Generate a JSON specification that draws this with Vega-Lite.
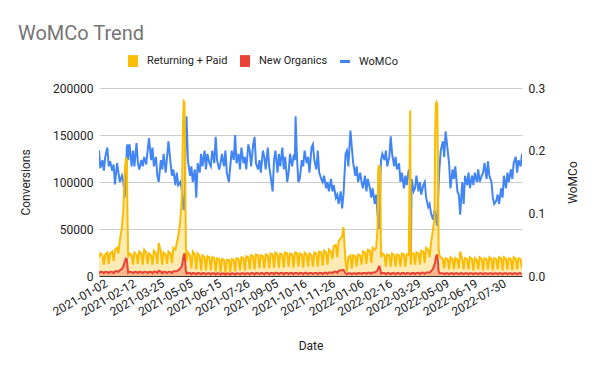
{
"$schema": "https://vega.github.io/schema/vega-lite/v6.json",
"width": 423, "height": 188,
"autosize": {"type": "none"},
"padding": {"left": 99, "top": 88, "right": 78, "bottom": 95},
"background": "white",
"title": {"text": "WoMCo Trend", "anchor": "start", "frame": "group", "fontSize": 20, "fontWeight": "normal", "color": "#757575", "dx": -81, "offset": 11},
"data": {"values": [
{"d":"2021-01-02","r":20000,"n":3000,"w":0.200},
{"d":"2021-01-04","r":24000,"n":4500,"w":0.172},
{"d":"2021-01-07","r":22000,"n":4200,"w":0.185},
{"d":"2021-01-09","r":12000,"n":3000,"w":0.168},
{"d":"2021-01-11","r":23000,"n":4500,"w":0.190},
{"d":"2021-01-14","r":25000,"n":4300,"w":0.205},
{"d":"2021-01-16","r":13000,"n":3000,"w":0.175},
{"d":"2021-01-18","r":24000,"n":4500,"w":0.183},
{"d":"2021-01-21","r":26000,"n":4400,"w":0.168},
{"d":"2021-01-23","r":16000,"n":3200,"w":0.178},
{"d":"2021-01-25","r":28000,"n":5000,"w":0.146},
{"d":"2021-01-28","r":30000,"n":5000,"w":0.180},
{"d":"2021-01-30","r":24000,"n":4500,"w":0.165},
{"d":"2021-02-01","r":38000,"n":6000,"w":0.150},
{"d":"2021-02-04","r":52000,"n":7500,"w":0.160},
{"d":"2021-02-06","r":70000,"n":10000,"w":0.150},
{"d":"2021-02-08","r":112000,"n":15000,"w":0.125},
{"d":"2021-02-10","r":126000,"n":18500,"w":0.160},
{"d":"2021-02-11","r":124000,"n":18000,"w":0.205},
{"d":"2021-02-12","r":65000,"n":10000,"w":0.210},
{"d":"2021-02-13","r":20000,"n":3500,"w":0.185},
{"d":"2021-02-15","r":24000,"n":4500,"w":0.210},
{"d":"2021-02-18","r":22000,"n":4200,"w":0.175},
{"d":"2021-02-20","r":12000,"n":3000,"w":0.200},
{"d":"2021-02-22","r":25000,"n":4500,"w":0.175},
{"d":"2021-02-25","r":23000,"n":4300,"w":0.212},
{"d":"2021-02-27","r":13000,"n":3000,"w":0.180},
{"d":"2021-03-01","r":26000,"n":4500,"w":0.170},
{"d":"2021-03-04","r":24000,"n":4300,"w":0.185},
{"d":"2021-03-06","r":12000,"n":3000,"w":0.175},
{"d":"2021-03-08","r":28000,"n":4600,"w":0.190},
{"d":"2021-03-11","r":25000,"n":4400,"w":0.178},
{"d":"2021-03-13","r":13000,"n":3000,"w":0.200},
{"d":"2021-03-15","r":24000,"n":4500,"w":0.220},
{"d":"2021-03-18","r":22000,"n":4300,"w":0.185},
{"d":"2021-03-20","r":12000,"n":3000,"w":0.205},
{"d":"2021-03-22","r":27000,"n":4700,"w":0.175},
{"d":"2021-03-25","r":24000,"n":4500,"w":0.190},
{"d":"2021-03-27","r":13000,"n":3200,"w":0.160},
{"d":"2021-03-29","r":35000,"n":5500,"w":0.150},
{"d":"2021-04-01","r":26000,"n":4600,"w":0.185},
{"d":"2021-04-03","r":12000,"n":3000,"w":0.170},
{"d":"2021-04-05","r":25000,"n":4500,"w":0.195},
{"d":"2021-04-08","r":23000,"n":4300,"w":0.165},
{"d":"2021-04-10","r":13000,"n":3000,"w":0.190},
{"d":"2021-04-12","r":26000,"n":4600,"w":0.215},
{"d":"2021-04-15","r":24000,"n":4400,"w":0.180},
{"d":"2021-04-17","r":14000,"n":3200,"w":0.160},
{"d":"2021-04-19","r":30000,"n":5000,"w":0.170},
{"d":"2021-04-22","r":28000,"n":5000,"w":0.145},
{"d":"2021-04-24","r":35000,"n":5000,"w":0.165},
{"d":"2021-04-26","r":42000,"n":6000,"w":0.145},
{"d":"2021-04-29","r":58000,"n":8000,"w":0.150},
{"d":"2021-05-01","r":80000,"n":10000,"w":0.140},
{"d":"2021-05-02","r":110000,"n":13000,"w":0.125},
{"d":"2021-05-03","r":165000,"n":18000,"w":0.115},
{"d":"2021-05-04","r":186000,"n":22000,"w":0.105},
{"d":"2021-05-05","r":185000,"n":24000,"w":0.110},
{"d":"2021-05-06","r":130000,"n":16000,"w":0.180},
{"d":"2021-05-07","r":35000,"n":6000,"w":0.230},
{"d":"2021-05-08","r":16000,"n":2500,"w":0.255},
{"d":"2021-05-10","r":25000,"n":3500,"w":0.185},
{"d":"2021-05-13","r":22000,"n":3300,"w":0.160},
{"d":"2021-05-15","r":8000,"n":1800,"w":0.175},
{"d":"2021-05-17","r":26000,"n":3200,"w":0.150},
{"d":"2021-05-20","r":23000,"n":3000,"w":0.170},
{"d":"2021-05-22","r":7000,"n":1800,"w":0.125},
{"d":"2021-05-24","r":24000,"n":3200,"w":0.180},
{"d":"2021-05-27","r":21000,"n":3000,"w":0.165},
{"d":"2021-05-29","r":6000,"n":1700,"w":0.195},
{"d":"2021-05-31","r":22000,"n":3100,"w":0.175},
{"d":"2021-06-03","r":20000,"n":3000,"w":0.200},
{"d":"2021-06-05","r":6000,"n":1700,"w":0.170},
{"d":"2021-06-07","r":21000,"n":3000,"w":0.195},
{"d":"2021-06-10","r":20000,"n":2900,"w":0.180},
{"d":"2021-06-12","r":6000,"n":1600,"w":0.175},
{"d":"2021-06-14","r":20000,"n":3000,"w":0.200},
{"d":"2021-06-17","r":19000,"n":2900,"w":0.180},
{"d":"2021-06-19","r":5000,"n":1500,"w":0.222},
{"d":"2021-06-21","r":19000,"n":2900,"w":0.185},
{"d":"2021-06-24","r":18000,"n":2800,"w":0.170},
{"d":"2021-06-26","r":4000,"n":1500,"w":0.180},
{"d":"2021-06-28","r":18000,"n":2800,"w":0.195},
{"d":"2021-07-01","r":17000,"n":2700,"w":0.175},
{"d":"2021-07-03","r":3000,"n":1400,"w":0.200},
{"d":"2021-07-05","r":17000,"n":2700,"w":0.165},
{"d":"2021-07-08","r":17000,"n":2700,"w":0.150},
{"d":"2021-07-10","r":4000,"n":1500,"w":0.175},
{"d":"2021-07-12","r":18000,"n":2800,"w":0.200},
{"d":"2021-07-15","r":17000,"n":2700,"w":0.185},
{"d":"2021-07-17","r":5000,"n":1500,"w":0.225},
{"d":"2021-07-19","r":19000,"n":2900,"w":0.180},
{"d":"2021-07-22","r":18000,"n":2800,"w":0.195},
{"d":"2021-07-24","r":6000,"n":1600,"w":0.170},
{"d":"2021-07-26","r":20000,"n":3000,"w":0.205},
{"d":"2021-07-29","r":19000,"n":2900,"w":0.180},
{"d":"2021-07-31","r":6000,"n":1600,"w":0.190},
{"d":"2021-08-02","r":21000,"n":3000,"w":0.170},
{"d":"2021-08-05","r":20000,"n":2900,"w":0.210},
{"d":"2021-08-07","r":7000,"n":1700,"w":0.200},
{"d":"2021-08-09","r":22000,"n":3100,"w":0.175},
{"d":"2021-08-12","r":21000,"n":3000,"w":0.210},
{"d":"2021-08-14","r":7000,"n":1700,"w":0.222},
{"d":"2021-08-16","r":23000,"n":3100,"w":0.180},
{"d":"2021-08-19","r":22000,"n":3000,"w":0.170},
{"d":"2021-08-21","r":8000,"n":1800,"w":0.185},
{"d":"2021-08-23","r":22000,"n":3100,"w":0.165},
{"d":"2021-08-26","r":21000,"n":3000,"w":0.200},
{"d":"2021-08-28","r":8000,"n":1800,"w":0.190},
{"d":"2021-08-30","r":23000,"n":3200,"w":0.170},
{"d":"2021-09-02","r":22000,"n":3100,"w":0.205},
{"d":"2021-09-04","r":8000,"n":1800,"w":0.175},
{"d":"2021-09-06","r":24000,"n":3200,"w":0.160},
{"d":"2021-09-09","r":23000,"n":3100,"w":0.135},
{"d":"2021-09-11","r":9000,"n":1800,"w":0.185},
{"d":"2021-09-13","r":25000,"n":3300,"w":0.200},
{"d":"2021-09-16","r":23000,"n":3100,"w":0.165},
{"d":"2021-09-18","r":9000,"n":1800,"w":0.195},
{"d":"2021-09-20","r":24000,"n":3200,"w":0.175},
{"d":"2021-09-23","r":23000,"n":3100,"w":0.205},
{"d":"2021-09-25","r":9000,"n":1800,"w":0.170},
{"d":"2021-09-27","r":25000,"n":3300,"w":0.190},
{"d":"2021-09-30","r":24000,"n":3200,"w":0.150},
{"d":"2021-10-02","r":10000,"n":1900,"w":0.165},
{"d":"2021-10-04","r":24000,"n":3200,"w":0.195},
{"d":"2021-10-07","r":23000,"n":3100,"w":0.175},
{"d":"2021-10-09","r":9000,"n":1800,"w":0.190},
{"d":"2021-10-11","r":25000,"n":3300,"w":0.185},
{"d":"2021-10-12","r":25000,"n":3300,"w":0.255},
{"d":"2021-10-14","r":24000,"n":3200,"w":0.190},
{"d":"2021-10-16","r":10000,"n":1900,"w":0.150},
{"d":"2021-10-18","r":24000,"n":3200,"w":0.155},
{"d":"2021-10-21","r":23000,"n":3100,"w":0.185},
{"d":"2021-10-23","r":9000,"n":1800,"w":0.175},
{"d":"2021-10-25","r":25000,"n":3300,"w":0.200},
{"d":"2021-10-28","r":23000,"n":3100,"w":0.180},
{"d":"2021-10-30","r":10000,"n":1900,"w":0.190},
{"d":"2021-11-01","r":24000,"n":3200,"w":0.165},
{"d":"2021-11-04","r":22000,"n":3100,"w":0.205},
{"d":"2021-11-06","r":10000,"n":1900,"w":0.210},
{"d":"2021-11-08","r":25000,"n":3300,"w":0.185},
{"d":"2021-11-11","r":24000,"n":3200,"w":0.170},
{"d":"2021-11-13","r":10000,"n":2000,"w":0.200},
{"d":"2021-11-15","r":26000,"n":3400,"w":0.165},
{"d":"2021-11-18","r":25000,"n":3300,"w":0.155},
{"d":"2021-11-20","r":11000,"n":2000,"w":0.150},
{"d":"2021-11-22","r":27000,"n":3500,"w":0.160},
{"d":"2021-11-25","r":25000,"n":3400,"w":0.140},
{"d":"2021-11-27","r":12000,"n":2200,"w":0.150},
{"d":"2021-11-29","r":28000,"n":3800,"w":0.135},
{"d":"2021-12-02","r":26000,"n":3800,"w":0.155},
{"d":"2021-12-04","r":18000,"n":3000,"w":0.135},
{"d":"2021-12-06","r":32000,"n":4500,"w":0.145},
{"d":"2021-12-09","r":33000,"n":4800,"w":0.125},
{"d":"2021-12-11","r":20000,"n":3500,"w":0.130},
{"d":"2021-12-13","r":37000,"n":5500,"w":0.115},
{"d":"2021-12-16","r":40000,"n":6000,"w":0.135},
{"d":"2021-12-18","r":42000,"n":6000,"w":0.108},
{"d":"2021-12-20","r":52000,"n":6500,"w":0.130},
{"d":"2021-12-23","r":15000,"n":3000,"w":0.195},
{"d":"2021-12-25","r":5000,"n":1800,"w":0.200},
{"d":"2021-12-27","r":20000,"n":3000,"w":0.175},
{"d":"2021-12-30","r":22000,"n":3000,"w":0.232},
{"d":"2022-01-01","r":8000,"n":1800,"w":0.205},
{"d":"2022-01-03","r":22000,"n":3000,"w":0.180},
{"d":"2022-01-06","r":21000,"n":3000,"w":0.160},
{"d":"2022-01-08","r":10000,"n":2000,"w":0.175},
{"d":"2022-01-10","r":23000,"n":3100,"w":0.150},
{"d":"2022-01-13","r":22000,"n":3000,"w":0.165},
{"d":"2022-01-15","r":12000,"n":2200,"w":0.150},
{"d":"2022-01-17","r":26000,"n":3300,"w":0.140},
{"d":"2022-01-20","r":25000,"n":3300,"w":0.160},
{"d":"2022-01-22","r":13000,"n":2300,"w":0.135},
{"d":"2022-01-24","r":28000,"n":3500,"w":0.155},
{"d":"2022-01-27","r":27000,"n":3500,"w":0.140},
{"d":"2022-01-29","r":14000,"n":2500,"w":0.125},
{"d":"2022-01-31","r":30000,"n":3800,"w":0.140},
{"d":"2022-02-03","r":28000,"n":3800,"w":0.115},
{"d":"2022-02-05","r":30000,"n":4500,"w":0.130},
{"d":"2022-02-07","r":50000,"n":6000,"w":0.100},
{"d":"2022-02-08","r":114000,"n":8500,"w":0.088},
{"d":"2022-02-09","r":117000,"n":10000,"w":0.075},
{"d":"2022-02-10","r":117000,"n":10000,"w":0.090},
{"d":"2022-02-11","r":112000,"n":7000,"w":0.150},
{"d":"2022-02-12","r":20000,"n":2500,"w":0.185},
{"d":"2022-02-14","r":24000,"n":3200,"w":0.195},
{"d":"2022-02-17","r":22000,"n":3100,"w":0.185},
{"d":"2022-02-19","r":10000,"n":1900,"w":0.200},
{"d":"2022-02-21","r":23000,"n":3100,"w":0.175},
{"d":"2022-02-24","r":22000,"n":3000,"w":0.190},
{"d":"2022-02-26","r":10000,"n":1900,"w":0.223},
{"d":"2022-02-28","r":24000,"n":3200,"w":0.195},
{"d":"2022-03-03","r":22000,"n":3000,"w":0.175},
{"d":"2022-03-05","r":10000,"n":1900,"w":0.190},
{"d":"2022-03-07","r":23000,"n":3100,"w":0.170},
{"d":"2022-03-10","r":22000,"n":3000,"w":0.180},
{"d":"2022-03-12","r":10000,"n":1900,"w":0.150},
{"d":"2022-03-14","r":24000,"n":3200,"w":0.165},
{"d":"2022-03-17","r":23000,"n":3100,"w":0.140},
{"d":"2022-03-19","r":10000,"n":1900,"w":0.160},
{"d":"2022-03-21","r":23000,"n":3100,"w":0.145},
{"d":"2022-03-24","r":22000,"n":3000,"w":0.170},
{"d":"2022-03-26","r":176000,"n":2000,"w":0.150},
{"d":"2022-03-27","r":12000,"n":1900,"w":0.020},
{"d":"2022-03-28","r":24000,"n":3200,"w":0.155},
{"d":"2022-03-31","r":24000,"n":3100,"w":0.135},
{"d":"2022-04-02","r":12000,"n":2000,"w":0.140},
{"d":"2022-04-04","r":25000,"n":3300,"w":0.160},
{"d":"2022-04-07","r":24000,"n":3200,"w":0.135},
{"d":"2022-04-09","r":12000,"n":2000,"w":0.150},
{"d":"2022-04-11","r":27000,"n":3400,"w":0.130},
{"d":"2022-04-14","r":26000,"n":3400,"w":0.145},
{"d":"2022-04-16","r":14000,"n":2200,"w":0.150},
{"d":"2022-04-18","r":30000,"n":3800,"w":0.125},
{"d":"2022-04-21","r":28000,"n":3800,"w":0.110},
{"d":"2022-04-23","r":20000,"n":3500,"w":0.115},
{"d":"2022-04-25","r":35000,"n":5000,"w":0.100},
{"d":"2022-04-28","r":50000,"n":8000,"w":0.090},
{"d":"2022-04-30","r":60000,"n":12000,"w":0.105},
{"d":"2022-05-01","r":150000,"n":15000,"w":0.100},
{"d":"2022-05-02","r":183000,"n":20000,"w":0.095},
{"d":"2022-05-03","r":185000,"n":22000,"w":0.085},
{"d":"2022-05-04","r":183000,"n":22000,"w":0.080},
{"d":"2022-05-05","r":120000,"n":15000,"w":0.120},
{"d":"2022-05-06","r":30000,"n":5000,"w":0.145},
{"d":"2022-05-07","r":22000,"n":3000,"w":0.170},
{"d":"2022-05-09","r":20000,"n":3000,"w":0.200},
{"d":"2022-05-12","r":18000,"n":2900,"w":0.215},
{"d":"2022-05-14","r":8000,"n":1800,"w":0.190},
{"d":"2022-05-16","r":19000,"n":3000,"w":0.231},
{"d":"2022-05-19","r":18000,"n":2900,"w":0.200},
{"d":"2022-05-21","r":7000,"n":1800,"w":0.180},
{"d":"2022-05-23","r":20000,"n":3000,"w":0.140},
{"d":"2022-05-26","r":18000,"n":2900,"w":0.170},
{"d":"2022-05-28","r":7000,"n":1800,"w":0.155},
{"d":"2022-05-30","r":19000,"n":3000,"w":0.175},
{"d":"2022-06-02","r":17000,"n":2900,"w":0.135},
{"d":"2022-06-04","r":8000,"n":1800,"w":0.130},
{"d":"2022-06-06","r":26000,"n":3000,"w":0.098},
{"d":"2022-06-09","r":18000,"n":2900,"w":0.150},
{"d":"2022-06-11","r":7000,"n":1800,"w":0.115},
{"d":"2022-06-13","r":19000,"n":3000,"w":0.160},
{"d":"2022-06-16","r":18000,"n":2900,"w":0.145},
{"d":"2022-06-18","r":7000,"n":1800,"w":0.165},
{"d":"2022-06-20","r":20000,"n":3000,"w":0.140},
{"d":"2022-06-23","r":18000,"n":2900,"w":0.160},
{"d":"2022-06-25","r":6000,"n":1800,"w":0.145},
{"d":"2022-06-27","r":19000,"n":3000,"w":0.165},
{"d":"2022-06-30","r":17000,"n":2900,"w":0.150},
{"d":"2022-07-02","r":7000,"n":1800,"w":0.170},
{"d":"2022-07-04","r":20000,"n":3000,"w":0.150},
{"d":"2022-07-07","r":18000,"n":2900,"w":0.160},
{"d":"2022-07-09","r":6000,"n":1800,"w":0.165},
{"d":"2022-07-11","r":19000,"n":3000,"w":0.180},
{"d":"2022-07-14","r":18000,"n":2900,"w":0.155},
{"d":"2022-07-16","r":7000,"n":1800,"w":0.183},
{"d":"2022-07-18","r":20000,"n":3000,"w":0.160},
{"d":"2022-07-21","r":18000,"n":2900,"w":0.150},
{"d":"2022-07-23","r":6000,"n":1800,"w":0.125},
{"d":"2022-07-25","r":19000,"n":3000,"w":0.115},
{"d":"2022-07-28","r":18000,"n":2900,"w":0.120},
{"d":"2022-07-30","r":7000,"n":1800,"w":0.130},
{"d":"2022-08-01","r":20000,"n":3000,"w":0.115},
{"d":"2022-08-04","r":19000,"n":2900,"w":0.140},
{"d":"2022-08-06","r":6000,"n":1800,"w":0.125},
{"d":"2022-08-08","r":20000,"n":3000,"w":0.160},
{"d":"2022-08-11","r":18000,"n":2900,"w":0.140},
{"d":"2022-08-13","r":7000,"n":1800,"w":0.165},
{"d":"2022-08-15","r":19000,"n":3000,"w":0.150},
{"d":"2022-08-18","r":18000,"n":2900,"w":0.170},
{"d":"2022-08-20","r":6000,"n":1800,"w":0.155},
{"d":"2022-08-22","r":20000,"n":3000,"w":0.180},
{"d":"2022-08-25","r":18000,"n":2900,"w":0.190},
{"d":"2022-08-27","r":7000,"n":1800,"w":0.165},
{"d":"2022-08-29","r":19000,"n":3000,"w":0.185},
{"d":"2022-09-01","r":18000,"n":2900,"w":0.175},
{"d":"2022-09-03","r":8000,"n":1900,"w":0.195}
]},
"encoding": {
  "x": {"field": "d", "type": "temporal",
    "scale": {"type": "utc", "domain": [{"year": 2021, "month": 1, "date": 2, "utc": true}, {"year": 2022, "month": 9, "date": 3, "utc": true}]},
    "axis": {"values": [
      {"year":2021,"month":1,"date":2,"utc":true},{"year":2021,"month":2,"date":12,"utc":true},{"year":2021,"month":3,"date":25,"utc":true},
      {"year":2021,"month":5,"date":5,"utc":true},{"year":2021,"month":6,"date":15,"utc":true},{"year":2021,"month":7,"date":26,"utc":true},
      {"year":2021,"month":9,"date":5,"utc":true},{"year":2021,"month":10,"date":16,"utc":true},{"year":2021,"month":11,"date":26,"utc":true},
      {"year":2022,"month":1,"date":6,"utc":true},{"year":2022,"month":2,"date":16,"utc":true},{"year":2022,"month":3,"date":29,"utc":true},
      {"year":2022,"month":5,"date":9,"utc":true},{"year":2022,"month":6,"date":19,"utc":true},{"year":2022,"month":7,"date":30,"utc":true}],
      "format": "%Y-%m-%d", "labelAngle": -30, "labelAlign": "right", "labelBaseline": "middle", "labelOffset": 7,
      "labelFontSize": 12, "labelColor": "#222", "labelPadding": 6, "labelOverlap": false, "labelBound": false,
      "grid": false, "ticks": false, "domainColor": "#333", "domainWidth": 1,
      "title": "Date", "titleFontSize": 12, "titleFontWeight": "normal", "titleColor": "#222", "titlePadding": 23}
  }
},
"layer": [
  {
    "mark": {"type": "line", "strokeWidth": 2, "clip": true},
    "encoding": {
      "y": {"field": "w", "type": "quantitative", "scale": {"domain": [0, 0.3]},
        "axis": {"orient": "right", "values": [0, 0.1, 0.2, 0.3], "format": ".1f", "grid": false, "ticks": false, "domain": false,
          "labelFontSize": 12, "labelColor": "#222", "labelPadding": 6,
          "title": "WoMCo", "titleAngle": -90, "titleBaseline": "top", "titleFontSize": 12, "titleFontWeight": "normal", "titleColor": "#222", "titlePadding": 23}},
      "color": {"datum": "WoMCo", "type": "nominal",
        "scale": {"domain": ["Returning + Paid", "New Organics", "WoMCo"], "range": ["#fbbc04", "#ea4335", "#4285f4"]},
        "legend": {"encode": {"symbols": {"update": {
          "shape": {"signal": "datum.value === 'WoMCo' ? 'M-0.85,-0.25H0.85V0.25H-0.85Z' : 'M-0.85,-1H0.85V1H-0.85Z'"},
          "fill": {"signal": "scale('color', datum.value)"},
          "fillOpacity": {"value": 1}, "opacity": {"value": 1}, "strokeWidth": {"value": 0}}}}}}
    }
  },
  {
    "layer": [
      {
        "mark": {"type": "area", "fillOpacity": 0.3, "clip": true},
        "encoding": {"y": {"field": "r", "type": "quantitative"}, "color": {"datum": "Returning + Paid", "type": "nominal"}}
      },
      {
        "mark": {"type": "line", "strokeWidth": 2, "clip": true},
        "encoding": {"y": {"field": "r", "type": "quantitative"}, "color": {"datum": "Returning + Paid", "type": "nominal"}}
      },
      {
        "mark": {"type": "area", "fillOpacity": 0.3, "clip": true},
        "encoding": {"y": {"field": "n", "type": "quantitative"}, "color": {"datum": "New Organics", "type": "nominal"}}
      },
      {
        "mark": {"type": "line", "strokeWidth": 2, "clip": true},
        "encoding": {"y": {"field": "n", "type": "quantitative"}, "color": {"datum": "New Organics", "type": "nominal"}}
      }
    ],
    "encoding": {
      "y": {"type": "quantitative", "scale": {"domain": [0, 200000]},
        "axis": {"orient": "left", "values": [0, 50000, 100000, 150000, 200000], "format": "d", "grid": true, "gridColor": "#cccccc",
          "ticks": false, "domain": false, "labelFontSize": 12, "labelColor": "#222", "labelPadding": 6,
          "title": "Conversions", "titleFontSize": 12, "titleFontWeight": "normal", "titleColor": "#222", "titlePadding": 20}}
    }
  }
],
"resolve": {"scale": {"y": "independent"}},
"config": {"font": "Roboto", "view": {"stroke": null},
  "legend": {"orient": "none", "legendX": 28, "legendY": -33, "direction": "horizontal", "title": null, "padding": 0,
    "labelFontSize": 11, "labelColor": "#222", "labelOffset": 8, "columnPadding": 11, "symbolSize": 140, "symbolType": "square"}
}
}
